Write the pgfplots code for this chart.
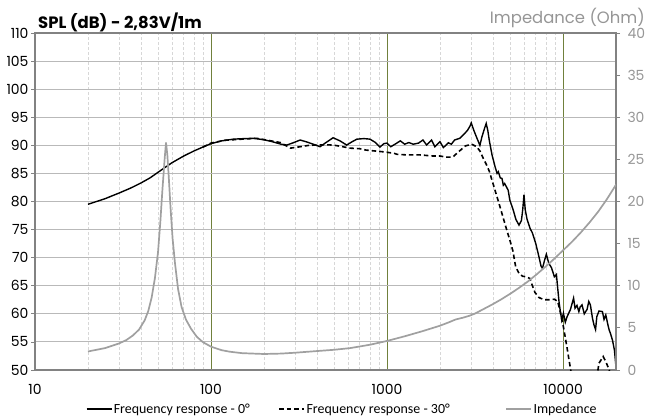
\documentclass[border=0pt]{standalone}
\usepackage{fontspec}
\setmainfont{Poppins}
\newfontfamily\legfont{Carlito}
\usepackage{pgfplots}
\pgfplotsset{compat=1.18}
\definecolor{gridgray}{RGB}{185,185,185}
\definecolor{minorgray}{RGB}{215,215,215}
\definecolor{olivegrid}{RGB}{112,128,60}
\definecolor{impgray}{RGB}{160,160,160}
\definecolor{axgray}{RGB}{130,130,130}
\definecolor{labgray}{RGB}{150,150,150}
\newcommand{\lf}{\legfont\fontsize{14}{16}\selectfont}

\pgfplotstableread{
f db
20 79.5
25 80.5
30 81.5
35 82.4
40 83.3
45 84.2
50 85.2
55 86.1
60 86.9
70 88.1
80 89.0
90 89.7
100 90.3
115 90.8
134 91.1
155 91.2
175 91.25
199 91.0
220 90.7
250 90.2
269 90.05
290 90.4
321 90.95
350 90.6
381 90.2
416 89.75
455 90.6
494 91.35
540 90.8
590 90.05
630 90.6
674 91.1
740 91.2
800 91.1
860 90.5
912 89.7
960 90.3
1000 90.4
1050 89.75
1110 90.2
1190 90.8
1260 90.2
1330 90.5
1410 90.2
1510 90.4
1600 90.95
1680 90.05
1790 90.95
1870 89.75
2000 90.65
2090 89.6
2230 90.45
2320 90.2
2420 90.95
2590 91.25
2760 92.1
2870 92.7
2970 93.5
3010 94.0
3110 92.7
3250 91.2
3370 90.0
3460 91.5
3580 93.0
3660 93.9
3740 92.6
3810 90.9
3950 88.3
4110 86.2
4220 85.0
4290 85.3
4400 84.2
4500 84.1
4580 82.9
4660 83.2
4880 82.0
4980 80.3
5210 78.5
5400 76.8
5620 75.8
5800 76.6
5900 78.5
6000 81.2
6100 78.5
6250 76.8
6500 75.2
6700 74.4
7000 72.5
7280 70.3
7500 68.5
7640 68.1
7850 69.5
8040 70.6
8300 69.0
8600 68.2
8930 66.6
9170 67.0
9330 64.5
9500 62.0
9650 60.5
9830 58.9
10050 60.1
10300 58.5
10520 59.4
10800 60.2
11000 60.7
11250 61.8
11480 62.8
11700 61.0
12000 61.5
12300 60.4
12500 61.2
12820 61.6
13200 60.0
13700 60.8
14000 62.2
14300 61.6
14700 59.2
15000 58.0
15300 57.2
15560 59.5
16000 60.5
16740 60.4
17100 59.0
17500 59.8
18000 58.0
18300 57.1
18600 56.5
19100 55.3
19600 53.5
20000 50.5
}\zerodeg

\pgfplotstableread{
f db
90 89.7
100 90.4
120 90.9
150 91.1
182 91.25
210 90.9
247 90.5
283 89.5
321 89.75
360 90.0
397 90.05
450 90.1
494 90.05
550 89.8
617 89.5
700 89.4
761 89.15
850 89.0
950 88.85
1090 88.6
1140 88.4
1290 88.3
1540 88.3
1822 88.1
2000 88.1
2170 87.9
2360 87.9
2560 88.9
2790 89.9
3030 90.2
3230 89.75
3370 89.0
3520 87.7
3680 86.5
3810 85.4
4000 83.2
4380 79.1
4760 75.2
5000 73.0
5190 71.2
5380 68.4
5620 67.2
5890 66.7
6170 66.6
6480 66.3
6700 65.0
6930 63.8
7300 62.9
7820 62.5
8300 62.5
8930 62.6
9330 62.2
9700 60.0
10050 57.7
10520 54.1
11000 50.4
11500 47
13000 44
15000 46
15700 49.5
16000 51.2
16900 52.4
17500 51.5
18300 50.0
19000 48
20000 45
}\thirtydeg

\pgfplotstableread{
f z
20 2.2
25 2.6
30 3.15
33 3.55
36 4.1
39 4.8
42 5.9
44 7.0
46 8.6
48 10.9
50 14.0
51.5 17.5
53 21.5
54.5 25.0
55.5 27.0
56.5 25.5
57.5 23.0
59 19.0
60.5 15.6
62.4 12.7
65 9.6
68 7.5
72 6.0
77 4.9
83 3.95
90 3.3
100 2.77
115 2.35
128 2.17
150 2.0
200 1.9
250 1.95
300 2.05
400 2.25
500 2.4
617 2.6
800 3.0
1000 3.45
1259 4.0
1585 4.6
1995 5.25
2239 5.65
2455 6.0
2692 6.2
2951 6.45
3162 6.7
3548 7.25
3981 7.8
4467 8.4
5012 9.05
5623 9.75
6310 10.5
7079 11.35
7943 12.25
8913 13.2
10000 14.2
11220 15.2
12589 16.3
14125 17.5
15849 18.8
17783 20.3
20000 22.0
}\imped

\begin{document}
\begin{tikzpicture}[x=1bp,y=1bp]
\useasboundingbox (-35,-48) rectangle (615,370);
\begin{axis}[
  at={(0,0)}, anchor=south west,
  scale only axis, width=581bp, height=337bp,
  clip mode=individual,
  xmode=log, xmin=10, xmax=20000,
  ymin=50, ymax=110, ytick={50,55,...,110},
  xtick={10,100,1000,10000}, xticklabels={10,100,1000,10000},
  minor xtick={20,30,40,50,60,70,80,90,200,300,400,500,600,700,800,900,2000,3000,4000,5000,6000,7000,8000,9000},
  xmajorgrids, xminorgrids, ymajorgrids,
  major x grid style={olivegrid, line width=0.9bp},
  minor x grid style={minorgray, dash pattern=on 3bp off 2bp, line width=0.7bp},
  major y grid style={gridgray, line width=1.1bp},
  axis line style={axgray, line width=1.2bp},
  tick pos=left, tick align=outside,
  major tick length=4bp, minor tick length=0pt,
  xtick style={draw=none},
  ytick style={axgray, line width=0.8bp},
  ticklabel style={font=\fontsize{14}{14}\selectfont, black},
  /pgf/number format/assume math mode=true,
  xticklabel style={yshift=-7bp},
  yticklabel style={xshift=1bp},
  legend style={draw=none, fill=none, at={(0.5284,-0.1157)}, anchor=center,
    legend columns=3,
    /tikz/column 2/.style={column sep=27bp},
    /tikz/column 4/.style={column sep=54bp},
    inner sep=0pt, nodes={inner sep=1.5bp}},
  legend image code/.code={\draw[#1] (0bp,0bp) -- (25bp,0bp);},
]
\addplot[black, line width=1.4bp] table[x=f,y=db] {\zerodeg};
\addlegendentry{\lf Frequency response - 0°}
\addplot[black, line width=1.6bp, dash pattern=on 4.5bp off 3bp] table[x=f,y=db] {\thirtydeg};
\addlegendentry{\lf Frequency response - 30°}
\addlegendimage{impgray, line width=1.7bp}
\addlegendentry{\lf Impedance}
\node[anchor=base west, font=\bfseries\fontsize{16.5}{16.5}\selectfont, inner sep=0pt] at ([xshift=3bp,yshift=4.7bp]rel axis cs:0,1) {SPL (dB) - 2,83V/1m};
\node[anchor=base east, font=\fontsize{16.5}{16.5}\selectfont, text=labgray, inner sep=0pt] at ([xshift=29bp,yshift=10bp]rel axis cs:1,1) {Impedance (Ohm)};
\end{axis}
\begin{axis}[
  at={(0,0)}, anchor=south west,
  scale only axis, width=581bp, height=337bp,
  xmode=log, xmin=10, xmax=20000,
  ymin=0, ymax=40, ytick={0,5,...,40},
  axis x line=none, axis y line*=right,
  axis line style={axgray, line width=1.2bp},
  tick align=outside, major tick length=4bp, minor tick length=0pt,
  ytick style={axgray, line width=0.8bp},
  ticklabel style={font=\fontsize{14}{14}\selectfont, text=labgray},
  /pgf/number format/assume math mode=true,
  yticklabel style={xshift=4bp},
]
\addplot[impgray, line width=1.7bp] table[x=f,y=z] {\imped};
\end{axis}
\end{tikzpicture}
\end{document}
